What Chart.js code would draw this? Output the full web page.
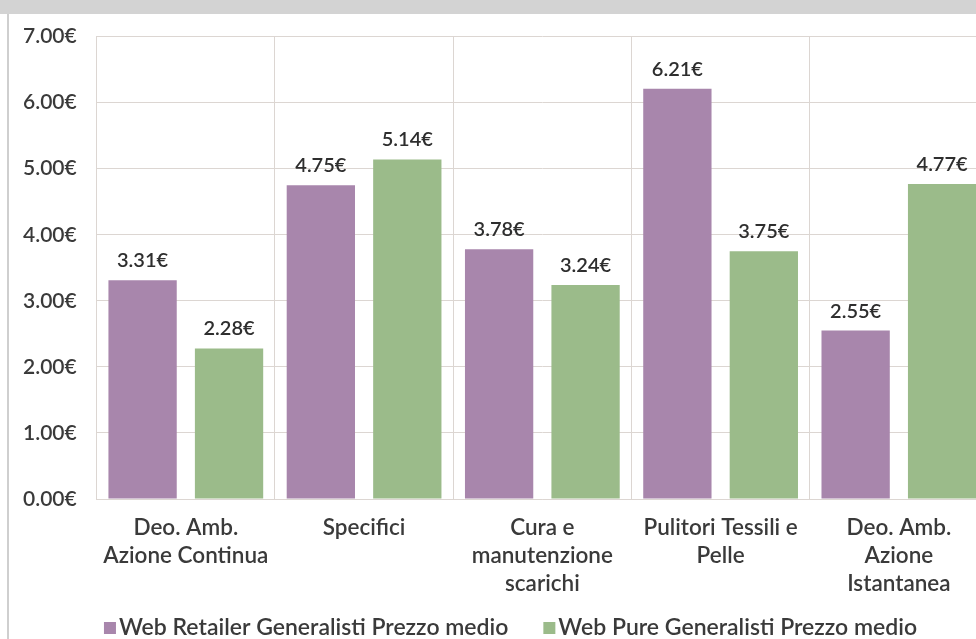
<!DOCTYPE html>
<html>
<head>
<meta charset="utf-8">
<script src="https://cdn.jsdelivr.net/npm/chart.js@4.4.1/dist/chart.umd.min.js"></script>
<style>
  html, body { margin: 0; padding: 0; background: #ffffff; overflow: hidden; width: 976px; height: 639px; }
  .band { position: absolute; left: 0; top: 0; width: 976px; height: 14px; background: #d3d3d3; z-index: 2; }
  .edge { position: absolute; left: 7px; top: 14px; width: 2px; height: 625px; background: #cfcfcf; z-index: 2; }
  .wrap { position: absolute; left: 0; top: 4px; width: 1021px; height: 638px; }
</style>
</head>
<body>
<div class="wrap"><canvas id="prezzi"></canvas></div>
<div class="band"></div>
<div class="edge"></div>
<script>
// Prezzo medio per categoria
const categorie = [
    ['Deo. Amb.', 'Azione Continua'],
    'Specifici',
    ['Cura e', 'manutenzione', 'scarichi'],
    ['Pulitori Tessili e', 'Pelle'],
    ['Deo. Amb.', 'Azione', 'Istantanea']
];
const webRetailer = [3.31, 4.75, 3.78, 6.21, 2.55];
const webPure = [2.28, 5.14, 3.24, 3.75, 4.77];
const serie = ['Web Retailer Generalisti Prezzo medio', 'Web Pure Generalisti Prezzo medio'];

const colori = {
    viola: '#a886ac',
    verde: '#9bbb8a',
    testo: '#3a3a3a',
    griglia: '#dcd6d2'
};

const euro = v => v.toFixed(2) + '€';

// etichette dei valori sopra le barre
const valoriPlugin = {
    id: 'valori',
    afterDatasetsDraw(chart) {
        const ctx = chart.ctx;
        ctx.save();
        ctx.font = '600 20px Lato';
        ctx.fillStyle = '#2e2e2e';
        ctx.textAlign = 'center';
        ctx.textBaseline = 'alphabetic';
        chart.data.datasets.forEach((ds, i) => {
            chart.getDatasetMeta(i).data.forEach((bar, j) => {
                ctx.fillText(euro(ds.data[j]), bar.x, bar.y - 13);
            });
        });
        ctx.restore();
    }
};

// legenda compatta sotto l'asse x (quadratino attaccato al testo)
const legendaPlugin = {
    id: 'legenda',
    afterDraw(chart) {
        const ctx = chart.ctx;
        const box = 12, gap = 3, spazio = 35;
        ctx.save();
        ctx.font = '600 23px Lato';
        ctx.textBaseline = 'middle';
        const voci = chart.data.datasets.map(ds => ({
            testo: ds.label,
            colore: ds.backgroundColor,
            w: box + gap + ctx.measureText(ds.label).width
        }));
        const totale = voci.reduce((s, v) => s + v.w, 0) + spazio * (voci.length - 1);
        let x = chart.width / 2 - totale / 2;
        const y = chart.scales.x.bottom + 31;
        voci.forEach(v => {
            ctx.fillStyle = v.colore;
            ctx.fillRect(x, y - 6, box, box);
            ctx.fillStyle = colori.testo;
            ctx.fillText(v.testo, x + box + gap, y);
            x += v.w + spazio;
        });
        ctx.restore();
    }
};

Chart.defaults.font.family = 'Lato';
Chart.defaults.font.weight = '600';
Chart.defaults.color = colori.testo;

new Chart(document.getElementById('prezzi'), {
    type: 'bar',
    data: {
        labels: categorie,
        datasets: [{
            label: serie[0],
            data: webRetailer,
            backgroundColor: colori.viola,
            categoryPercentage: 0.97,
            barPercentage: 0.79
        }, {
            label: serie[1],
            data: webPure,
            backgroundColor: colori.verde,
            categoryPercentage: 0.97,
            barPercentage: 0.79
        }]
    },
    options: {
        responsive: true,
        maintainAspectRatio: false,
        animation: false,
        layout: {
            padding: { left: 3, right: 33, top: 12, bottom: 45 }
        },
        plugins: {
            legend: { display: false },
            tooltip: { enabled: false }
        },
        scales: {
            y: {
                min: 0,
                max: 7,
                ticks: {
                    stepSize: 1,
                    padding: 20,
                    font: { size: 21 },
                    callback: v => euro(v)
                },
                grid: {
                    color: colori.griglia,
                    drawTicks: false
                },
                border: { color: colori.griglia }
            },
            x: {
                ticks: {
                    padding: 15,
                    font: { size: 22.5, lineHeight: 28 / 22.5 },
                    maxRotation: 0
                },
                grid: {
                    color: colori.griglia,
                    drawTicks: false
                },
                border: { color: colori.griglia },
                // l'asse riserva più spazio del necessario sotto le etichette
                afterFit(scale) { scale.height -= 16; }
            }
        }
    },
    plugins: [valoriPlugin, legendaPlugin]
});
</script>
</body>
</html>
